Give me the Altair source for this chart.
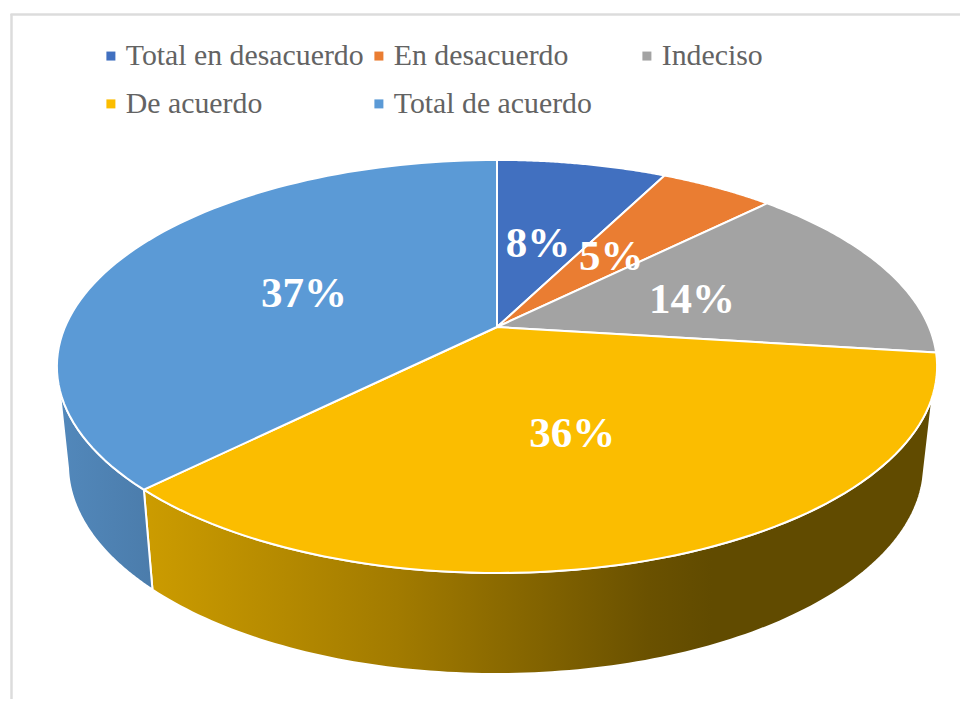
import numpy as np
import pandas as pd
import altair as alt

categories = ["Total en desacuerdo", "En desacuerdo", "Indeciso", "De acuerdo", "Total de acuerdo"]
shares = [7.5, 5.05, 14.45, 35.5, 37.5]
labels = ["8%", "5%", "14%", "36%", "37%"]
colors = ["#4170C0", "#EA7D32", "#A3A3A3", "#FBBD00", "#5B9AD6"]

# Perspective model of the pie disc, in page pixels
AX, AY = 497.0, 327.0
A, B, K = 432.0, 199.0, 0.191
TOP = (497.0, 366.5, 440.0, 206.5)
BOT = (496.0, 465.0, 428.0, 209.0)
label_fx = [0.482, 0.518, 0.506, 0.44, 0.519]
label_fy = [0.51, 0.50, 0.44, 0.467, 0.47]


def rim(phi):
    d = 1 + K * np.cos(phi)
    return AX + A * np.sin(phi) / d, AY - B * np.cos(phi) / d


def rim_t(phi):
    x, y = rim(phi)
    return np.arctan2((x - TOP[0]) / TOP[2], (TOP[1] - y) / TOP[3]) % (2 * np.pi)


def ell(e, t):
    return e[0] + e[2] * np.sin(t), e[1] - e[3] * np.cos(t)


edges = np.cumsum([0] + shares) / sum(shares) * 2 * np.pi

top_rows, label_rows = [], []
for i, c in enumerate(categories):
    phis = np.linspace(edges[i], edges[i + 1], 80)
    pts = [(AX, AY)] + [rim(p) for p in phis] + [(AX, AY)]
    for j, (x, y) in enumerate(pts):
        top_rows.append({"cat": c, "o": j, "x": float(x), "y": float(y)})
    mx, my = rim((edges[i] + edges[i + 1]) / 2)
    label_rows.append({"label": labels[i],
                       "x": float(AX + label_fx[i] * (mx - AX)),
                       "y": float(AY + label_fy[i] * (my - AY))})
top_df = pd.DataFrame(top_rows)
label_df = pd.DataFrame(label_rows)


def wall(top0, top1, bot0, bot1):
    rows = ([ell(TOP, t) for t in np.linspace(top0, top1, 120)]
            + [ell(BOT, t) for t in np.linspace(bot1, bot0, 120)]
            + [ell(TOP, top0)])
    return pd.DataFrame([{"o": j, "x": float(x), "y": float(y)} for j, (x, y) in enumerate(rows)])


split = float(rim_t(edges[4]))
yellow_wall = wall(np.radians(98), split, np.radians(94), split)
blue_wall = wall(split, np.radians(264), split, np.radians(269))

xs = alt.X("x:Q", axis=None, scale=alt.Scale(domain=[8, 960], nice=False, zero=False))
ys = alt.Y("y:Q", axis=None, scale=alt.Scale(domain=[699, 8], nice=False, zero=False))

yellow_grad = alt.Gradient(gradient="linear", x1=0, x2=1, y1=0, y2=0, stops=[
    alt.GradientStop(offset=0, color="#CC9C00"),
    alt.GradientStop(offset=0.32, color="#A27B00"),
    alt.GradientStop(offset=0.64, color="#6A5100"),
    alt.GradientStop(offset=0.72, color="#614B00"),
    alt.GradientStop(offset=1, color="#614B00"),
])
blue_grad = alt.Gradient(gradient="linear", x1=0, x2=1, y1=0, y2=0, stops=[
    alt.GradientStop(offset=0, color="#5288BB"),
    alt.GradientStop(offset=1, color="#4B7CAB"),
])

wall_y = alt.Chart(yellow_wall).mark_line(fill=yellow_grad, stroke="white", strokeWidth=2).encode(
    x=xs, y=ys, order="o:Q")
wall_b = alt.Chart(blue_wall).mark_line(fill=blue_grad, stroke="white", strokeWidth=2).encode(
    x=xs, y=ys, order="o:Q")

tops = alt.Chart(top_df).mark_line(stroke="white", strokeWidth=2, strokeJoin="round").encode(
    x=xs, y=ys, order="o:Q",
    fill=alt.Fill("cat:N", scale=alt.Scale(domain=categories, range=colors), legend=alt.Legend(
        title=None, orient="none", legendX=88, legendY=33, columns=3, gridAlign="all", direction="horizontal",
        columnPadding=0, rowPadding=17, symbolType="square", symbolSize=81,
        symbolStrokeWidth=0, symbolStrokeColor="transparent", labelFont="Liberation Serif", labelFontSize=29.8,
        labelColor="#636363", labelOffset=0, labelLimit=400)),
)

text = alt.Chart(label_df).mark_text(font="Liberation Serif", fontSize=43, fontWeight="bold",
                                     color="white", baseline="middle", align="center").encode(
    x=xs, y=ys, text="label:N")

left = alt.Chart(label_df.head(1)).mark_rule(color="#DCDCDC", strokeWidth=2.5).encode(
    x=alt.value(3.5), y=alt.value(6), y2=alt.value(691))
topline = alt.Chart(label_df.head(1)).mark_rule(color="#DCDCDC", strokeWidth=2.5).encode(
    y=alt.value(6.5), x=alt.value(2.5), x2=alt.value(952))

chart = alt.layer(wall_y, wall_b, tops, text, left, topline).properties(
    width=952, height=691, padding=0, autosize=alt.AutoSizeParams(type="none"),
    background="white",
).configure_view(stroke=None)

chart.save("out.html", embed_options={"renderer": "svg", "actions": False})
